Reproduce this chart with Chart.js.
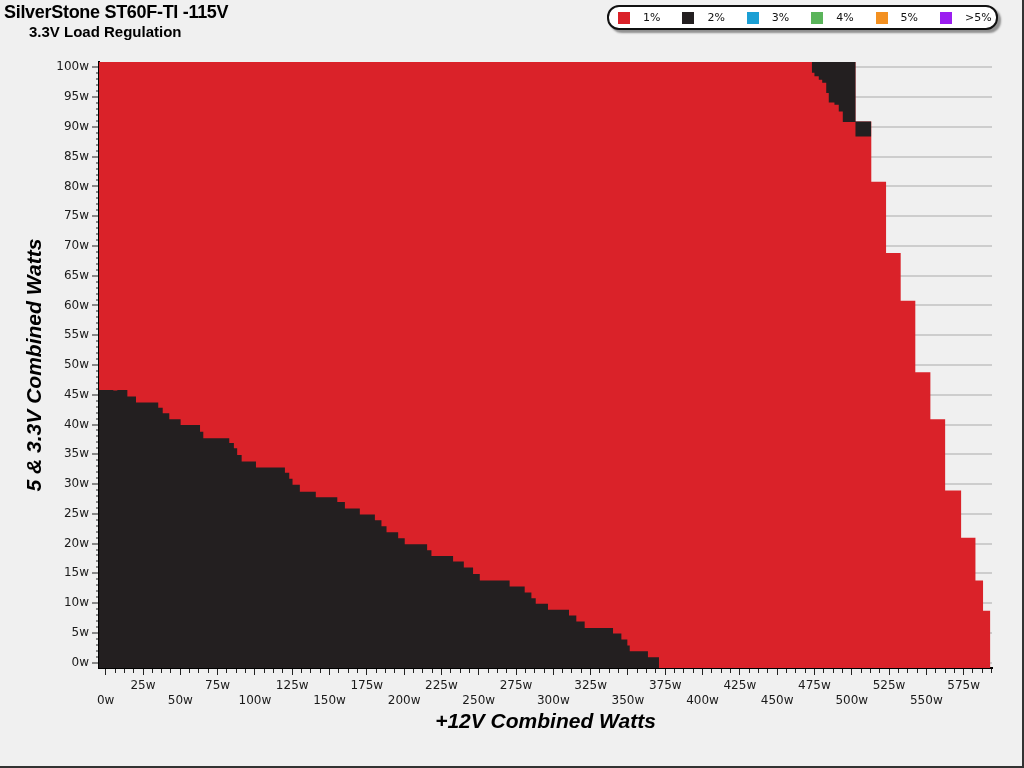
<!DOCTYPE html>
<html>
<head>
<meta charset="utf-8">
<script src="https://cdn.jsdelivr.net/npm/chart.js@4.4.1/dist/chart.umd.min.js"></script>
<style>
body { margin: 0; background: #f0f0f0; }
#wrap { position: relative; width: 1024px; height: 768px; background: #f0f0f0; overflow: hidden; }
#chart { position: absolute; left: 0; top: 0; }
.title { position: absolute; left: 4px; top: 3px; font: bold 18px/18px "Liberation Sans", Arial, sans-serif; letter-spacing: -0.3px; color: #000; white-space: nowrap; }
.subtitle { position: absolute; left: 29px; top: 24px; font: bold 15px/15px "Liberation Sans", Arial, sans-serif; color: #000; white-space: nowrap; }
#legend { position: absolute; left: 607px; top: 5px; width: 391px; height: 25px; box-sizing: border-box; border: 2px solid #111; border-radius: 12px; background: #fff; box-shadow: 3px 3px 2px rgba(0,0,0,0.4); display: flex; align-items: center; padding-left: 9px; }
.item { flex: 0 0 64.4px; display: flex; align-items: center; font: 11px "DejaVu Sans", sans-serif; color: #111; }
.swatch { width: 12px; height: 12px; margin-right: 13px; }
.frame { position: absolute; left: 0; top: 0; width: 1024px; height: 768px; box-sizing: border-box; border-right: 2px solid #333; border-bottom: 2px solid #333; pointer-events: none; }
</style>
</head>
<body>
<div id="wrap">
    <canvas id="chart" width="1024" height="768"></canvas>
    <div class="title">SilverStone ST60F-TI -115V</div>
    <div class="subtitle">3.3V Load Regulation</div>
    <div id="legend"></div>
    <div class="frame"></div>
</div>
<script>
// each x is where a step starts, its y holds until the next x

// black area (2%) at low +12V load
var lowX = [-4.5, 5.1, 7.8, 14.5, 20.3, 35.2, 38.2, 42.6, 50.2, 63.2, 65.4, 82.8, 85.9, 88.1, 91.1,
    100.7, 120.1, 123.0, 125.2, 130.1, 140.8, 155.2, 160.3, 170.3, 180.4, 184.8, 188.2, 196.0, 200.4,
    215.4, 218.3, 232.8, 240.0, 246.2, 250.7, 270.7, 280.8, 285.3, 288.2, 296.4, 310.5, 315.4, 321.0,
    340.0, 345.6, 349.6, 351.2, 363.4, 370.8];
var lowY = [45.8, 45.7, 45.8, 44.7, 43.7, 42.8, 41.9, 40.9, 39.9, 38.8, 37.7, 36.9, 36.0, 34.9, 33.8,
    32.8, 31.9, 30.9, 29.9, 28.7, 27.8, 27.0, 25.9, 24.9, 23.9, 22.9, 21.9, 20.9, 19.9,
    18.9, 17.9, 17.0, 16.0, 14.9, 13.8, 12.8, 11.8, 10.8, 9.9, 8.9, 7.9, 6.9, 5.8,
    4.9, 3.9, 2.9, 1.9, 0.9, -1];

// outer edge of the tested area (1%)
var redX = [-4.5, 502.5, 513.1, 523.0, 532.8, 542.6, 552.7, 562.6, 573.3, 582.9, 588.0, 592.9];
var redY = [101, 90.9, 80.8, 68.8, 60.8, 48.8, 40.9, 28.9, 21.0, 13.8, 8.7, -1];

// black patch (2%) at the top right
var capX = [473.2, 475.0, 477.9, 480.2, 482.9, 484.6, 488.4, 491.3, 494.0, 502.5, 513.1];
var capTop = [101, 101, 101, 101, 101, 101, 101, 101, 101, 90.9, 90.9];
var capBottom = [99.1, 98.5, 97.9, 97.4, 95.7, 94.1, 93.7, 92.6, 90.8, 88.4, 88.4];

var legendLabels = ['1%', '2%', '3%', '4%', '5%', '>5%'];
var legendColors = ['#da2229', '#231f20', '#1b9fd4', '#5ab45a', '#f39020', '#9b1ef0'];

var xMin = -4.5, xMax = 594, yMin = -0.9, yMax = 100.9;

function pts(xs, ys) {
    return xs.map(function (x, i) { return { x: x, y: ys[i] }; });
}

var legend = document.getElementById('legend');
legendLabels.forEach(function (lab, i) {
    var item = document.createElement('div');
    item.className = 'item';
    var sw = document.createElement('span');
    sw.className = 'swatch';
    sw.style.background = legendColors[i];
    item.appendChild(sw);
    item.appendChild(document.createTextNode(lab));
    legend.appendChild(item);
});

var axisFont = { family: 'DejaVu Sans', size: 12, lineHeight: 1.25 };
var titleFont = { family: 'Liberation Sans', size: 21, weight: 'bold', style: 'italic', lineHeight: 1.2 };

function isMajorX(c) { return c.tick && c.tick.value % 25 === 0; }
function isMajorY(c) { return c.tick && c.tick.value % 5 === 0; }

new Chart(document.getElementById('chart'), {
    type: 'line',
    data: {
        datasets: [{
            label: '1%',
            data: pts(redX, redY),
            backgroundColor: legendColors[0],
            fill: 'start',
            order: 3
        }, {
            label: '2%',
            data: pts(lowX, lowY),
            backgroundColor: legendColors[1],
            fill: 'start',
            order: 1
        }, {
            label: '2% top',
            data: pts(capX, capTop),
            backgroundColor: legendColors[1],
            fill: '+1',
            order: 2
        }, {
            label: 'top base',
            data: pts(capX, capBottom),
            fill: false,
            order: 2
        }]
    },
    options: {
        responsive: false,
        animation: false,
        stepped: true,
        parsing: true,
        elements: {
            line: { borderWidth: 0, stepped: true },
            point: { radius: 0, hoverRadius: 0 }
        },
        layout: { padding: { left: 0, right: 32, top: 62, bottom: 0 } },
        plugins: {
            legend: { display: false },
            tooltip: { enabled: false }
        },
        scales: {
            x: {
                type: 'linear',
                min: xMin,
                max: xMax,
                afterBuildTicks: function (s) {
                    var t = [];
                    for (var v = 0; v <= xMax; v += 6.25) t.push({ value: v });
                    s.ticks = t;
                },
                afterFit: function (s) { s.height = 100; },
                ticks: {
                    autoSkip: false,
                    maxRotation: 0,
                    minRotation: 0,
                    padding: 3,
                    color: '#1a1a1a',
                    font: axisFont,
                    callback: function (v) {
                        if (v % 50 === 0) return ['', v + 'w'];
                        if (v % 25 === 0) return [v + 'w', ''];
                        return '';
                    }
                },
                grid: {
                    drawOnChartArea: false,
                    tickLength: 7,
                    tickColor: '#222',
                    tickWidth: 1,
                    tickBorderDash: function (c) { return isMajorX(c) ? [] : [4, 10]; }
                },
                border: { color: '#000', width: 2 },
                title: {
                    display: true,
                    text: '+12V Combined Watts',
                    color: '#000',
                    font: titleFont,
                    padding: { top: 0, bottom: 33 }
                }
            },
            y: {
                type: 'linear',
                min: yMin,
                max: yMax,
                afterBuildTicks: function (s) {
                    var t = [];
                    for (var v = 0; v <= 100; v++) t.push({ value: v });
                    s.ticks = t;
                },
                afterFit: function (s) { s.width = 99; },
                ticks: {
                    autoSkip: false,
                    padding: 3,
                    color: '#1a1a1a',
                    font: axisFont,
                    callback: function (v) { return v % 5 === 0 ? v + 'w' : ''; }
                },
                grid: {
                    color: function (c) { return isMajorY(c) ? '#cdcdcd' : 'rgba(0,0,0,0)'; },
                    lineWidth: 2,
                    tickLength: 7,
                    tickColor: '#222',
                    tickWidth: 1,
                    tickBorderDash: function (c) { return isMajorY(c) ? [] : [3, 4]; },
                    tickBorderDashOffset: function (c) { return isMajorY(c) ? 0 : 3; }
                },
                border: { color: '#000', width: 2 },
                title: {
                    display: true,
                    text: '5 & 3.3V Combined Watts',
                    color: '#000',
                    font: titleFont,
                    padding: { top: 23, bottom: 0 }
                }
            }
        }
    }
});
</script>
</body>
</html>
